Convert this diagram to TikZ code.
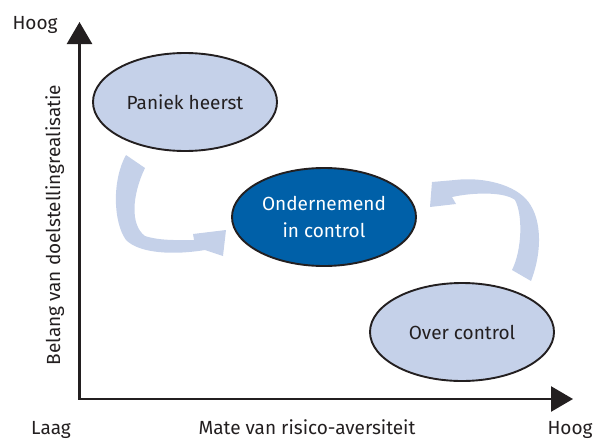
\documentclass[tikz,border=0pt]{standalone}
\usepackage{fontspec}
\setmainfont{Fira Sans}
\usetikzlibrary{shapes.geometric,arrows.meta}
\definecolor{paleblue}{HTML}{C5D1E9}
\definecolor{deepblue}{HTML}{0060A8}
\definecolor{ink}{HTML}{231F20}

\begin{document}
\begin{tikzpicture}[x=1pt,y=-1pt,
  txt/.style={font=\fontsize{19}{23}\selectfont, text=ink, inner sep=0pt},
  state/.style={ellipse, draw=ink, line width=1.9pt, minimum width=184pt,
    minimum height=98pt, inner sep=0pt, txt},
  axis/.style={line width=2.6pt, draw=ink, line join=miter},
  flow/.style={fill=paleblue}]
\useasboundingbox (0,0) rectangle (599,439);

% axes
\coordinate (ytip) at (79.5,22);
\coordinate (xtip) at (573,399);
\draw[axis, {Triangle[length=22pt,width=25pt]}-{Triangle[length=22pt,width=25pt]}]
  (ytip) |- (xtip);

% axis labels
\node[txt, anchor=base] (hoogy) at (35,29) {Hoog};
\node[txt, anchor=base] (laag) at (51,434) {Laag};
\node[txt, anchor=base] (xlab) at (307,434) {Mate van risico-aversiteit};
\node[txt, anchor=base] (hoogx) at (570,434) {Hoog};
\node[txt, rotate=90, anchor=base] (ylab) at (60,225) {Belang van doelstellingrealisatie};

% curved flow arrows
\fill[flow] (126,155) -- (145,168)
  .. controls (132,195) and (130,225) .. (145,236)
  .. controls (160,241) and (180,240) .. (194,240)
  -- (193,234) -- (226,230) -- (223,256) -- (205,250)
  .. controls (175,255) and (140,254) .. (126,240)
  .. controls (113,222) and (112,180) .. (126,155) -- cycle;

\fill[flow] (512,270) -- (531,281)
  .. controls (543,250) and (542,215) .. (525,198)
  .. controls (510,183) and (480,177) .. (455,180)
  -- (432,182) -- (430,207) -- (456,204) -- (452,197)
  .. controls (475,192) and (505,192) .. (515,200)
  .. controls (523,215) and (522,250) .. (512,270) -- cycle;

% states
\node[state, fill=paleblue] (panic) at (185,102) {Paniek heerst};
\node[state, fill=deepblue, text=white, align=center,
  font=\fontsize{19}{27}\selectfont] (core) at (324,217) {Ondernemend\\in control};
\node[state, fill=paleblue] (over) at (462,332) {Over control};
\end{tikzpicture}
\end{document}
